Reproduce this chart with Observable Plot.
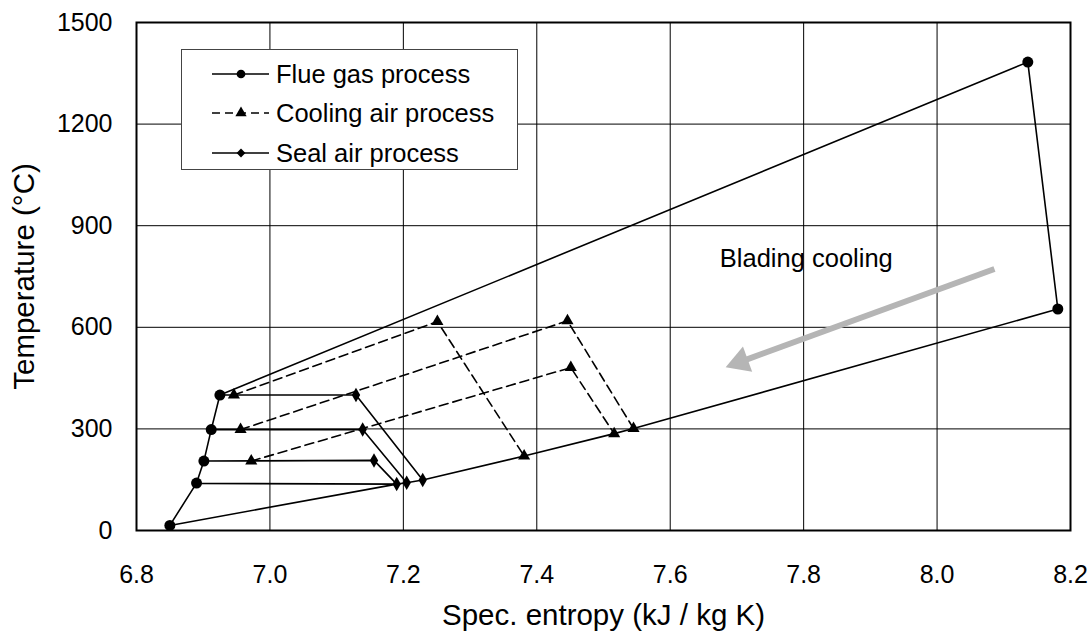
<!DOCTYPE html>
<html><head><meta charset="utf-8">
<script src="https://cdn.jsdelivr.net/npm/d3@7"></script>
<script src="https://cdn.jsdelivr.net/npm/@observablehq/plot@0.6"></script>
<style>
body{margin:0;background:#fff;font-family:"Liberation Sans",Arial,sans-serif;}
#wrap{position:relative;width:1089px;height:631px;}
#legend{position:absolute;left:181px;top:49px;width:337px;height:121px;border:1px solid #444;background:#fff;box-sizing:border-box;}
.row{position:absolute;left:0;height:30px;display:flex;align-items:center;font-size:25.5px;color:#000;white-space:nowrap;}
.row svg{margin-left:30px;margin-right:7px;}
</style></head><body><div id="wrap"></div>
<script>
// ---- data ----
const xTicks = [6.8, 7.0, 7.2, 7.4, 7.6, 7.8, 8.0, 8.2];
const yTicks = [0, 300, 600, 900, 1200, 1500];

// Flue gas process (circles)
const flueS = [6.85, 6.89, 6.901, 6.912, 6.925, 8.136, 8.181];
const flueT = [15, 140, 205, 298, 400, 1383, 654];
// Flue gas return line along the bottom
const flueReturnS = [8.181, 7.545, 7.516, 7.381, 7.229, 7.205, 7.19, 6.85];
const flueReturnT = [654, 301, 286, 220, 149, 141, 137, 15];

// Cooling air process (triangles, dashed)
const coolAS = [6.946, 7.251, 7.381], coolAT = [400, 617, 220];
const coolBS = [6.956, 7.446, 7.545], coolBT = [298, 619, 301];
const coolCS = [6.972, 7.451, 7.516], coolCT = [205, 481, 286];

// Seal air process (diamonds)
const sealAS = [6.925, 7.129, 7.229], sealAT = [400, 400, 149];
const sealBS = [6.912, 7.139, 7.205], sealBT = [298, 298, 141];
const sealCS = [6.901, 7.156, 7.19],  sealCT = [205, 207, 137];
const sealDS = [6.89, 7.19],          sealDT = [139, 137];

// Blading cooling arrow (start, head centre)
const arrowS = [8.086, 7.705];
const arrowT = [772, 498];
const noteText = "Blading cooling";
const noteS = 7.804, noteT = 802;

const legendLabels = ["Flue gas process", "Cooling air process", "Seal air process"];
const xTitle = "Spec. entropy (kJ / kg K)";
const yTitle = "Temperature (°C)";

// ---- build tables ----
const pts = (S, T, id) => S.map((s, i) => ({s, t: T[i], id}));
const flueLine = [...pts(flueS, flueT, "f1"), ...pts(flueReturnS, flueReturnT, "f1").slice(1)];
const flueDots = pts(flueS, flueT, "f");
const coolLines = [...pts(coolAS, coolAT, "a"), ...pts(coolBS, coolBT, "b"), ...pts(coolCS, coolCT, "c")];
const sealLines = [...pts(sealAS, sealAT, "a"), ...pts(sealBS, sealBT, "b"), ...pts(sealCS, sealCT, "c"), ...pts(sealDS, sealDT, "d")];
const sealDots = [sealAS, sealBS, sealCS].flatMap((S, k) => {
  const T = [sealAT, sealBT, sealCT][k];
  return pts(S, T, "s").slice(1);
});
const arrow = [{s1: arrowS[0], t1: arrowT[0], s2: arrowS[1], t2: arrowT[1]}];

const font = "Liberation Sans, Arial, sans-serif";

const chart = Plot.plot({
  width: 1089, height: 631,
  marginLeft: 136, marginRight: 19, marginTop: 22, marginBottom: 101,
  style: {fontFamily: font, fontSize: "25px", color: "#000", background: "#fff"},
  x: {domain: [6.8, 8.2]},
  y: {domain: [0, 1500]},
  marks: [
    Plot.gridX(xTicks, {stroke: "#000", strokeOpacity: 1, strokeWidth: 1}),
    Plot.gridY(yTicks, {stroke: "#000", strokeOpacity: 1, strokeWidth: 1}),
    Plot.axisX(xTicks, {tickSize: 0, tickPadding: 35, tickFormat: d => d.toFixed(1), label: null, fontSize: 25}),
    Plot.axisY(yTicks, {tickSize: 0, tickPadding: 24, tickFormat: d => String(d), label: null, fontSize: 25}),
    Plot.text([xTitle], {frameAnchor: "bottom", lineAnchor: "middle", textAnchor: "middle", dy: 85, fontSize: 29.5}),
    Plot.text([yTitle], {frameAnchor: "left", lineAnchor: "middle", textAnchor: "middle", rotate: -90, dx: -112, fontSize: 29.5}),
    // arrow
    Plot.link(arrow, {x1: "s1", y1: "t1", x2: "s2", y2: "t2", stroke: "#b5b5b5", strokeWidth: 6}),
    Plot.dot(arrow, {x: "s2", y: "t2", symbol: "triangle", r: 10, fill: "#b5b5b5", stroke: "none", rotate: 250}),
    Plot.text([noteText], {x: () => noteS, y: () => noteT, fontSize: 25.5}),
    // lines
    Plot.line(flueLine, {x: "s", y: "t", z: "id", stroke: "#000", strokeWidth: 1.6}),
    Plot.line(sealLines, {x: "s", y: "t", z: "id", stroke: "#000", strokeWidth: 1.6}),
    Plot.line(coolLines, {x: "s", y: "t", z: "id", stroke: "#000", strokeWidth: 1.6, strokeDasharray: "9,5"}),
    // markers
    Plot.dot(flueDots, {x: "s", y: "t", r: 5.5, fill: "#000", stroke: "none"}),
    Plot.dot(coolLines, {x: "s", y: "t", symbol: "triangle", r: 4.5, fill: "#000", stroke: "none"}),
    Plot.dot(sealDots, {x: "s", y: "t", symbol: "diamond", r: 4.4, fill: "#000", stroke: "none"}),
    Plot.frame({stroke: "#000", strokeWidth: 2})
  ]
});
const wrap = document.getElementById("wrap");
wrap.appendChild(chart);

// legend
const legend = document.createElement("div");
legend.id = "legend";
const symbols = [d3.symbolCircle, d3.symbolTriangle, d3.symbolDiamond2];
const sizes = [60, 55, 50];
const dashes = [null, "8,5", null];
const rowTops = [9, 48, 88];
legendLabels.forEach((lab, i) => {
  const row = document.createElement("div");
  row.className = "row";
  row.style.top = rowTops[i] + "px";
  const ns = "http://www.w3.org/2000/svg";
  const svg = document.createElementNS(ns, "svg");
  svg.setAttribute("width", 57); svg.setAttribute("height", 20);
  const line = document.createElementNS(ns, "line");
  line.setAttribute("x1", 0); line.setAttribute("x2", 57);
  line.setAttribute("y1", 10); line.setAttribute("y2", 10);
  line.setAttribute("stroke", "#000"); line.setAttribute("stroke-width", 1.5);
  if (dashes[i]) line.setAttribute("stroke-dasharray", dashes[i]);
  svg.appendChild(line);
  const p = document.createElementNS(ns, "path");
  p.setAttribute("d", d3.symbol(symbols[i], sizes[i])());
  p.setAttribute("transform", "translate(29,10)");
  p.setAttribute("fill", "#000");
  svg.appendChild(p);
  row.appendChild(svg);
  const span = document.createElement("span");
  span.textContent = lab;
  row.appendChild(span);
  legend.appendChild(row);
});
wrap.appendChild(legend);
</script>
</body></html>
